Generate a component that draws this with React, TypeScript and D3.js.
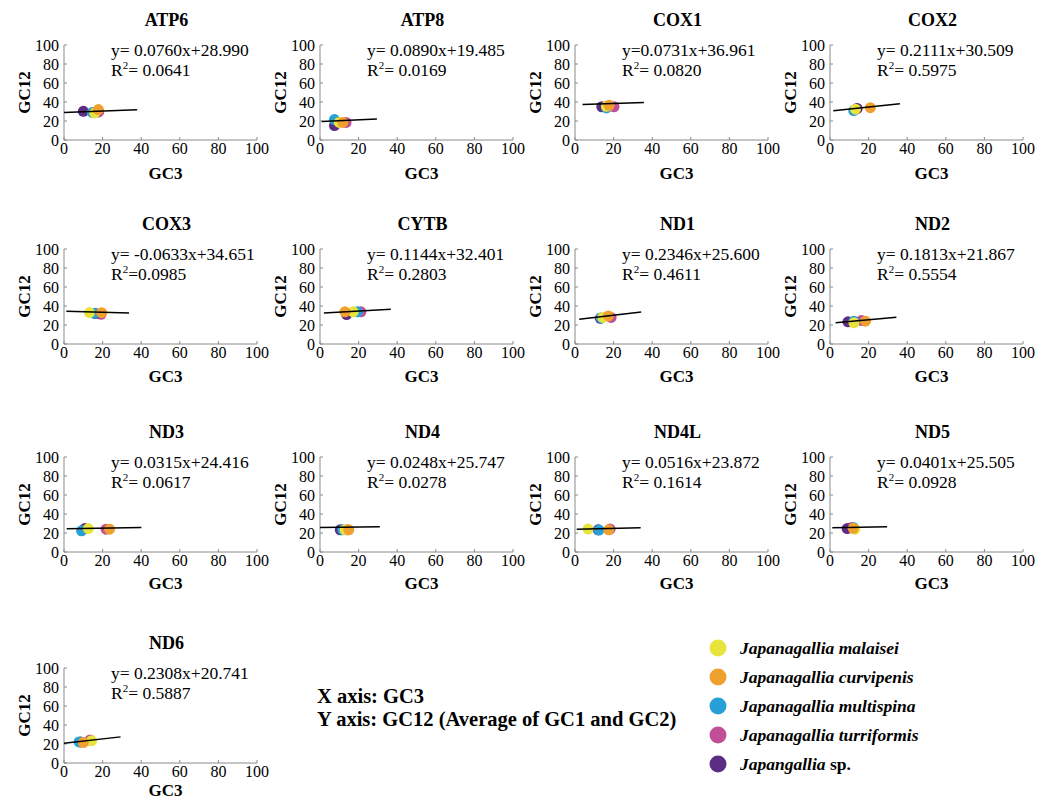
import React from "react";
import * as d3 from "d3";

// Genes, in panel order (4 per row)
const genes = ["ATP6", "ATP8", "COX1", "COX2", "COX3", "CYTB", "ND1", "ND2", "ND3", "ND4", "ND4L", "ND5", "ND6"];

// Linear regression of GC12 on GC3 for each gene
const slopes = [0.076, 0.089, 0.0731, 0.2111, -0.0633, 0.1144, 0.2346, 0.1813, 0.0315, 0.0248, 0.0516, 0.0401, 0.2308];
const intercepts = [28.99, 19.485, 36.961, 30.509, 34.651, 32.401, 25.6, 21.867, 24.416, 25.747, 23.872, 25.505, 20.741];
const rSquared = [0.0641, 0.0169, 0.082, 0.5975, 0.0985, 0.2803, 0.4611, 0.5554, 0.0617, 0.0278, 0.1614, 0.0928, 0.5887];
// whether a space follows "=" in the printed equation / R² text
const eqSpace = [true, true, false, true, true, true, true, true, true, true, true, true, true];
const r2Space = [true, true, true, true, false, true, true, true, true, true, true, true, true];
// x extent of each fitted line (GC3)
const lineFrom = [0, 0.9, 3.9, 1.7, 1.2, 2, 2.2, 2.9, 1.4, 0, 0.9, 1.2, 0];
const lineTo = [37.9, 29.5, 35.7, 36.2, 33.7, 36.7, 34.3, 34.4, 40.1, 31, 34, 29.6, 29.3];

// Species
const speciesGenus = ["Japanagallia", "Japanagallia", "Japanagallia", "Japanagallia", "Japangallia"];
const speciesEpithet = ["malaisei", "curvipenis", "multispina", "turriformis", "sp."];
const speciesColors = ["#e9e33d", "#efa02e", "#279fd7", "#c14f97", "#5d2c84"];

// GC3 / GC12 per species, one value per gene
const malaiseiGC3 = [15.9, 10, 16.3, 13.2, 13.2, 17.2, 14.4, 12.4, 12.6, 13, 6.8, 12.9, 14.3];
const malaiseiGC12 = [28.5, 18.5, 35.5, 32.5, 33, 33.9, 28, 22.3, 24.7, 23.3, 24.1, 24, 23.5];
const curvipenisGC3 = [17.8, 11.8, 17.7, 20.9, 19.5, 12.9, 17.3, 18.4, 23.6, 14.9, 17.5, 12, 10];
const curvipenisGC12 = [32, 18.5, 36.5, 34, 33, 33.9, 29.5, 24, 24, 23.3, 23.4, 25, 21.5];
const multispinaGC3 = [14.7, 7.5, 16.3, 12.3, 15.8, 19.5, 13.5, 12.4, 9.1, 11.8, 12.4, 12.4, 7.8];
const multispinaGC12 = [29, 21.5, 33.8, 31, 32.3, 33.9, 27.5, 24, 22.3, 23.3, 23.1, 25.4, 22.2];
const turriformisGC3 = [18, 13.5, 20.2, 14, 19.2, 21.2, 18.7, 16.3, 21.8, 14, 18.2, 11.2, 13.5];
const turriformisGC12 = [29.5, 18.5, 35, 33, 31.2, 33.9, 28, 24.7, 24, 23.3, 24.1, 25.8, 24.2];
const spGC3 = [10, 7.5, 13.9, 14, 16.3, 13.8, 13.1, 9.3, 10.8, 10.5, 12, 8.9, 8.7];
const spGC12 = [30.2, 15.2, 35, 33.2, 32, 31, 27, 23.4, 24.7, 23.3, 23.3, 24.7, 22.2];

const gc3BySpecies = [malaiseiGC3, curvipenisGC3, multispinaGC3, turriformisGC3, spGC3];
const gc12BySpecies = [malaiseiGC12, curvipenisGC12, multispinaGC12, turriformisGC12, spGC12];
// painting order of the dots (later on top)
const drawOrder = [3, 4, 2, 0, 1];

const axisTicks = [0, 20, 40, 60, 80, 100];

// Layout
const colLeft = [64, 320, 575, 830];
const rowTop = [45, 249, 457, 668];
const xLabelGap = [39, 38, 37, 33];
const plotW = 193;
const plotH = 95;
const serif = "'Liberation Serif', 'Times New Roman', serif";
const axisColor = "#8a8a8a";

function Panel({ i }: { i: number }) {
  const row = Math.floor(i / 4);
  const left = colLeft[i % 4];
  const top = rowTop[row];
  const x = d3.scaleLinear().domain([0, 100]).range([0, plotW]);
  const y = d3.scaleLinear().domain([0, 100]).range([plotH, 0]);
  const fit = (v: number) => slopes[i] * v + intercepts[i];
  const line = d3
    .line<number>()
    .x((v) => x(v))
    .y((v) => y(fit(v)));
  const eq = `y=${eqSpace[i] ? " " : ""}${slopes[i].toFixed(4)}x+${intercepts[i].toFixed(3)}`;
  const r2 = `=${r2Space[i] ? " " : ""}${rSquared[i].toFixed(4)}`;

  return (
    <g transform={`translate(${left},${top})`} fontFamily={serif}>
      <text x={plotW / 2 + 6} y={-19} textAnchor="middle" fontSize={18} fontWeight="bold">
        {genes[i]}
      </text>
      {/* axes */}
      <line x1={0} x2={0} y1={0} y2={plotH} stroke={axisColor} strokeWidth={1} />
      <line x1={0} x2={plotW} y1={plotH} y2={plotH} stroke={axisColor} strokeWidth={1} />
      {axisTicks.map((t) => (
        <g key={"x" + t}>
          <line x1={x(t)} x2={x(t)} y1={plotH} y2={plotH - 3} stroke={axisColor} />
          <text x={x(t)} y={plotH + 14} textAnchor="middle" fontSize={16}>
            {t}
          </text>
        </g>
      ))}
      {axisTicks.map((t) => (
        <g key={"y" + t}>
          <line x1={0} x2={3} y1={y(t)} y2={y(t)} stroke={axisColor} />
          <text x={-5} y={y(t)} dy="0.35em" textAnchor="end" fontSize={16}>
            {t}
          </text>
        </g>
      ))}
      <text x={plotW / 2 + 5} y={plotH + xLabelGap[row]} textAnchor="middle" fontSize={17} fontWeight="bold">
        GC3
      </text>
      <text
        transform={`translate(${-34},${plotH / 2}) rotate(-90)`}
        textAnchor="middle"
        fontSize={17}
        fontWeight="bold"
      >
        GC12
      </text>
      {/* points */}
      {drawOrder.map((s) => (
        <circle
          key={s}
          cx={x(gc3BySpecies[s][i])}
          cy={y(gc12BySpecies[s][i])}
          r={5.5}
          fill={speciesColors[s]}
        />
      ))}
      {/* regression line */}
      <path d={line([lineFrom[i], lineTo[i]]) || ""} stroke="#000" strokeWidth={1.5} fill="none" />
      {/* equation */}
      <text x={47} y={11} fontSize={17.5}>
        {eq}
      </text>
      <text x={47} y={31} fontSize={17.5}>
        R<tspan fontSize={11} dy={-7}>2</tspan>
        <tspan dy={7}>{r2}</tspan>
      </text>
    </g>
  );
}

export default function App() {
  const legendX = 718;
  const legendY = 648;
  const legendStep = 29;
  return (
    <svg
      width={1054}
      height={799}
      style={{ position: "absolute", left: 0, top: 0, background: "#fff" }}
    >
      <rect width={1054} height={799} fill="#fff" />
      {genes.map((g, i) => (
        <Panel key={g} i={i} />
      ))}
      <g fontFamily={serif} fontWeight="bold" fontSize={20.5}>
        <text x={317} y={703}>X axis: GC3</text>
        <text x={317} y={726}>Y axis: GC12 (Average of GC1 and GC2)</text>
      </g>
      <g fontFamily={serif} fontWeight="bold" fontSize={17.5}>
        {speciesGenus.map((g, s) => (
          <g key={s}>
            <circle cx={legendX} cy={legendY + s * legendStep} r={8.5} fill={speciesColors[s]} />
            <text x={legendX + 22} y={legendY + s * legendStep + 6}>
              <tspan fontStyle="italic">{g}</tspan>
              {speciesEpithet[s] === "sp." ? (
                <tspan> sp.</tspan>
              ) : (
                <tspan fontStyle="italic"> {speciesEpithet[s]}</tspan>
              )}
            </text>
          </g>
        ))}
      </g>
    </svg>
  );
}
